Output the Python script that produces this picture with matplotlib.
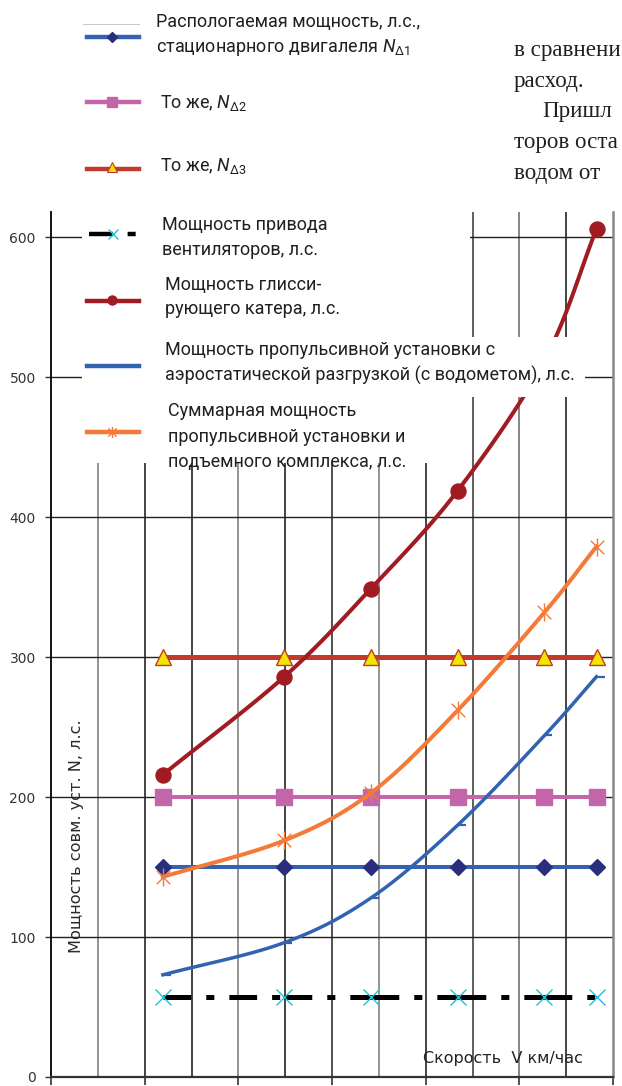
import numpy as np
import matplotlib
matplotlib.use('Agg')
import matplotlib.pyplot as plt
from matplotlib.path import Path
from matplotlib.patches import Rectangle
from matplotlib import font_manager

# ---- data ----
speed = [26, 40, 50, 60, 70, 76]                     # V, km/h
n_d1 = [150, 150, 150, 150, 150, 150]                # stationary engine N_d1
n_d2 = [200, 200, 200, 200, 200, 200]                # N_d2
n_d3 = [300, 300, 300, 300, 300, 300]                # N_d3
fan_power = [57, 57, 57, 57, 57, 57]                 # fan drive
planing_power = [216, 286, 349, 419, 512, 606]       # planing boat
propulsion_power = [73, 96, 128, 180, 244, 286]      # propulsion w/ aerostatic unloading
total_power = [143, 169, 203, 262, 332, 379]         # propulsion + lift complex
y_ticks = [0, 100, 200, 300, 400, 500, 600]

W, H = 622, 1086
X_MIN, X_MAX = 13.1, 77.9
Y_MAX = 618
FAN_DASH = (20, 10.8, 5.8, 10.8)

names = {f.name for f in font_manager.fontManager.ttflist}
LEG_FONT = 'Liberation Sans Narrow' if 'Liberation Sans Narrow' in names else 'Roboto'

plt.rcParams['lines.scale_dashes'] = False
plt.rcParams['mathtext.fontset'] = 'custom'
plt.rcParams['mathtext.rm'] = LEG_FONT
plt.rcParams['mathtext.it'] = LEG_FONT + ':italic'


def smooth(xs, ys, sx, sy, n=24):
    # Catmull-Rom curve through the points (like Excel "smoothed line")
    p = np.column_stack([np.asarray(xs, float) * sx, np.asarray(ys, float) * sy])
    p = np.vstack([2 * p[0] - p[1], p, 2 * p[-1] - p[-2]])
    t = np.linspace(0, 1, n, endpoint=False)[:, None]
    out = []
    for i in range(1, len(p) - 2):
        p0, p1, p2, p3 = p[i - 1], p[i], p[i + 1], p[i + 2]
        out.append(0.5 * (2 * p1 + (p2 - p0) * t
                          + (2 * p0 - 5 * p1 + 4 * p2 - p3) * t ** 2
                          + (3 * p1 - p0 - 3 * p2 + p3) * t ** 3))
    out.append(p[-2][None])
    out = np.vstack(out)
    return out[:, 0] / sx, out[:, 1] / sy


star = Path([(0, -1), (0, 1), (-0.75, -0.75), (0.75, 0.75), (-0.75, 0.75), (0.75, -0.75)],
            [Path.MOVETO, Path.LINETO, Path.MOVETO, Path.LINETO, Path.MOVETO, Path.LINETO])
dash = Path([(0, 0), (1, 0)], [Path.MOVETO, Path.LINETO])

fig = plt.figure(figsize=(W / 100, H / 100), dpi=100)
fig.patch.set_facecolor('white')
ax = fig.add_axes([51 / W, 1 - 1077 / H, (613 - 51) / W, (1077 - 212) / H])
ax.set_xlim(X_MIN, X_MAX)
ax.set_ylim(0, Y_MAX)
sx = (613 - 51) / (X_MAX - X_MIN)
sy = (1077 - 212) / Y_MAX

# grid
grid_x = np.linspace(X_MIN, X_MAX, 13)
grid_cols = ['#777777', '#111111', '#111111', '#777777', '#111111', '#222222',
             '#777777', '#111111', '#333333', '#666666', '#111111']
for xv, c in zip(grid_x[1:-1], grid_cols):
    ax.axvline(xv, color=c, lw=1.1, zorder=1)
for yv in y_ticks[1:]:
    ax.axhline(yv, color='#222222', lw=1.0, zorder=1)

ax.spines['top'].set_visible(False)
ax.spines['left'].set_color('#000000')
ax.spines['left'].set_linewidth(1.3)
ax.spines['right'].set_color('#888888')
ax.spines['right'].set_linewidth(1.8)
ax.spines['bottom'].set_color('#333333')
ax.spines['bottom'].set_linewidth(1.6)
ax.set_yticks(y_ticks)
ax.set_yticklabels([str(v) for v in y_ticks], fontsize=10, color='#333333')
ax.set_xticks(grid_x[::2])
ax.set_xticklabels([])
ax.tick_params(axis='y', direction='out', length=4, width=1, pad=7, colors='#333333')
ax.tick_params(axis='x', direction='out', length=6, width=1.2, colors='#333333')

# series
z = 3
ax.plot(speed, n_d1, color='#3561b0', lw=2.9, zorder=z)
ax.plot(speed, n_d1, ls='none', marker='D', ms=7.8, color='#2a2f7d', zorder=z + 0.5)
z += 1
ax.plot(speed, n_d2, color='#c466a8', lw=2.9, zorder=z)
ax.plot(speed, n_d2, ls='none', marker='s', ms=11.5, color='#c266a9', zorder=z + 0.5)
z += 1
ax.plot(speed, n_d3, color='#c23b2a', lw=3.6, zorder=z)
ax.plot(speed, n_d3, ls='none', marker='^', ms=11.5, mfc='#f2e600', mec='#c23b2a',
        mew=1.0, zorder=z + 0.5)
z += 1
# dash pattern restarts on every segment, as in the original
for i in range(len(speed) - 1):
    ax.plot(speed[i:i + 2], fan_power[i:i + 2], color='black', lw=3.6,
            dashes=FAN_DASH, solid_capstyle='butt', dash_capstyle='butt', zorder=z)
ax.plot(speed, fan_power, ls='none', marker='x', ms=12, mew=1.0, color='#22c0d8',
        zorder=z + 0.5)
z += 1
xs, ys = smooth(speed, planing_power, sx, sy)
ax.plot(xs, ys, color='#a01c22', lw=2.9, zorder=z)
ax.plot(speed, planing_power, ls='none', marker='o', ms=10.8, color='#a01c22',
        zorder=z + 0.5)
z += 1
xs, ys = smooth(speed, propulsion_power, sx, sy)
ax.plot(xs, ys, color='#3263b0', lw=2.5, zorder=z)
ax.plot(speed, propulsion_power, ls='none', marker=dash, ms=11.5, mew=1.6,
        color='#3263b0', zorder=z + 0.5)
z += 1
xs, ys = smooth(speed, total_power, sx, sy)
ax.plot(xs, ys, color='#f47a38', lw=2.9, zorder=z)
ax.plot(speed, total_power, ls='none', marker=star, ms=13, mew=1.0,
        color='#f47a38', zorder=z + 0.5)

# overlay in pixel coordinates: legend boxes, legend, labels, page text
ov = fig.add_axes([0, 0, 1, 1], zorder=5)
ov.set_xlim(0, W)
ov.set_ylim(H, 0)
ov.axis('off')
ov.add_patch(Rectangle((82, 212), 388, 251, facecolor='white', edgecolor='none'))
ov.add_patch(Rectangle((82, 337), 503, 60, facecolor='white', edgecolor='none'))

LX0, LX1, LXM = 87, 139, 112
tk = dict(fontsize=13, color='#231f20', family=LEG_FONT, va='center')

ov.plot([83, 139], [24, 24], color='#c8c8c8', lw=0.7)
ov.plot([LX0, LX1], [37, 37], color='#3561b0', lw=3.2)
ov.plot([LXM], [37], marker='D', ms=5.5, color='#2a2f7d')
ov.text(156, 22, 'Распологаемая мощность, л.с.,', **tk)
ov.text(156, 47, r'стационарного двигалеля $N_{\Delta1}$', **tk)

ov.plot([LX0, LX1], [102, 102], color='#c466a8', lw=3.2)
ov.plot([LXM], [102], marker='s', ms=7.5, color='#c266a9')
ov.text(160, 103, r'То же, $N_{\Delta2}$', **tk)

ov.plot([LX0, LX1], [169, 169], color='#c23b2a', lw=3.2)
ov.plot([LXM], [167], marker='^', ms=7.5, mfc='#f2e600', mec='#c23b2a', mew=0.8)
ov.text(160, 166, r'То же, $N_{\Delta3}$', **tk)

ov.plot([89, 136], [234, 234], color='black', lw=3.2, dashes=(17, 10.8, 5.8, 10.8),
        dash_capstyle='butt')
ov.plot([113], [234], marker='x', ms=7.5, mew=1.0, color='#22c0d8')
ov.text(162, 225, 'Мощность привода', **tk)
ov.text(162, 250, 'вентиляторов, л.с.', **tk)

ov.plot([LX0, LX1], [301, 301], color='#a01c22', lw=3.2)
ov.plot([LXM], [300], marker='o', ms=6.5, color='#a01c22')
ov.text(165, 285, 'Мощность глисси-', **tk)
ov.text(165, 309, 'рующего катера, л.с.', **tk)

ov.plot([LX0, LX1], [366, 366], color='#3263b0', lw=3.2)
ov.text(165, 350, 'Мощность пропульсивной установки с', **tk)
ov.text(165, 375, 'аэростатической разгрузкой (с водометом), л.с.', **tk)

ov.plot([LX0, LX1], [432, 432], color='#f47a38', lw=3.2)
ov.plot([LXM], [432], marker=star, ms=8, mew=1.0, color='#f47a38')
ov.text(168, 411, 'Суммарная мощность', **tk)
ov.text(168, 437, 'пропульсивной установки и', **tk)
ov.text(168, 462, 'подъемного комплекса, л.с.', **tk)

# axis titles drawn inside the plot area
ov.text(77, 836, 'Мощность совм. уст. N, л.с.', rotation=90, fontsize=11.6,
        color='#2a2a2a', family='DejaVu Sans', ha='center', va='center')
ov.text(423, 1059, 'Скорость  V км/час', fontsize=11.5, color='#222222',
        family='DejaVu Sans', ha='left', va='center')

# fragment of the page text on the right
bt = dict(fontsize=16.6, color='#231f20', family='Liberation Serif', va='baseline')
ov.text(514, 56, 'в сравнени', **bt)
ov.text(514, 87, 'расход.', **bt)
ov.text(542, 117, 'Пришл', **bt)
ov.text(514, 148, 'торов оста', **bt)
ov.text(514, 179, 'водом от', **bt)

fig.savefig('out.png', dpi=100, facecolor='white')
